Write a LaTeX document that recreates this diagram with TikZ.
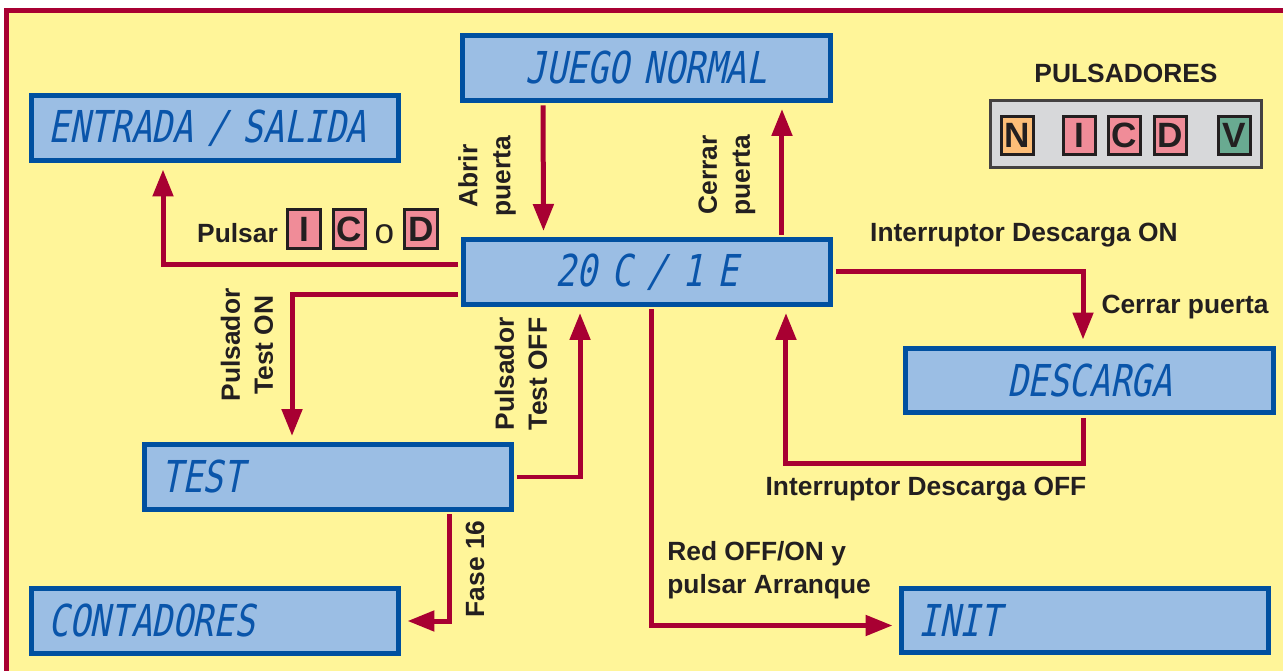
\documentclass[tikz,border=0pt]{standalone}
\usepackage{fontspec}
\setmainfont{Liberation Sans}
\newfontfamily\lcdfont{DejaVu Sans Mono}[FakeSlant=0.2,FakeStretch=0.78]
\usetikzlibrary{arrows.meta,positioning}
\definecolor{fondo}{RGB}{255,245,153}
\definecolor{granate}{RGB}{168,0,50}
\definecolor{azul}{RGB}{0,80,160}
\definecolor{celeste}{RGB}{155,190,228}
\definecolor{azullcd}{RGB}{10,85,170}
\definecolor{negro}{RGB}{35,31,32}
\definecolor{rosa}{RGB}{240,140,152}
\definecolor{naranja}{RGB}{253,190,120}
\definecolor{verde}{RGB}{105,170,145}
\definecolor{gris}{RGB}{215,216,218}

\begin{document}
\begin{tikzpicture}[x=0.02cm,y=-0.02cm,
  lcd/.style={draw=azul,line width=.1cm,fill=celeste,text=azullcd,
    minimum height=1.3cm,text width=6.66cm,inner xsep=.35cm,inner ysep=0pt,
    font=\lcdfont\fontsize{25}{25}\selectfont},
  arr/.style={draw=granate,line width=.1cm,-{Triangle[length=.54cm,width=.4cm]},
    shorten >=.12cm,shorten <=.05cm},
  lab/.style={text=negro,font=\bfseries\fontsize{15}{18.8}\selectfont,align=center,inner sep=0pt},
  btn/.style={draw=negro,line width=.06cm,minimum width=.65cm,minimum height=.77cm,
    inner sep=0pt,text=negro,font=\bfseries\fontsize{20}{20}\selectfont}]
\useasboundingbox (0,0) rectangle (1283,671);
\fill[white] (0,0) rectangle (1283,671);
\draw[granate,line width=.1cm,fill=fondo] (6.5,10.5) rectangle (1300,690);

% pantallas
\node[lcd,align=left] (entrada) at (215,128.5) {ENTRADA / SALIDA};
\node[lcd,align=center] (juego) at (646.5,68) {JUEGO NORMAL};
\node[lcd,align=center] (estado) at (647,272) {20 C / 1 E};
\node[lcd,align=left] (test) at (328,477) {TEST};
\node[lcd,align=left] (contadores) at (215,621) {CONTADORES};
\node[lcd,align=center] (descarga) at (1089.5,380.5) {DESCARGA};
\node[lcd,align=left] (init) at (1085,620.5) {INIT};

% transiciones
\draw[arr] ([yshift=.14cm]estado.west) -| ([xshift=-1.04cm]entrada.south);
\draw[arr] ([xshift=-2.07cm]juego.south) -- ([xshift=-2.07cm]estado.north);
\draw[arr] ([xshift=2.7cm]estado.north) -- ([xshift=2.7cm]estado.north |- juego.south);
\draw[arr] ([yshift=-.46cm]estado.west) -| ([xshift=-.72cm]test.north);
\draw[arr] (test.east) -| ([xshift=-1.34cm]estado.south);
\draw[arr] ([xshift=2.44cm]test.south) |- (contadores.east);
\draw[arr] ([xshift=.08cm]estado.south) |- ([yshift=-.1cm]init.west);
\draw[arr] (estado.east) -| ([xshift=-.13cm]descarga.north);
\draw[arr] ([xshift=-.13cm]descarga.south) -- ++(0,48) -| ([xshift=2.78cm]estado.south);

% etiquetas
\node[lab,rotate=90] (abrir) at (487,176) {Abrir\\puerta};
\node[lab,rotate=90] (cerrar) at (727,175) {Cerrar\\puerta};
\node[lab,rotate=90] (teston) at (247,345) {Pulsador\\Test ON};
\node[lab,rotate=90] (testoff) at (521,374) {Pulsador\\Test OFF};
\node[lab,rotate=90] (fase) at (475,569) {Fase 16};
\node[lab] (descon) at (1024,235) {Interruptor Descarga ON};
\node[lab] (cerrarp) at (1185,307) {Cerrar puerta};
\node[lab] (descoff) at (926,489) {Interruptor Descarga OFF};
\node[lab,align=left,anchor=west] (red) at (667,570) {Red OFF/ON y\\pulsar Arranque};

% pulsar I, C o D
\node[lab] (pulsar) at (237.5,233) {Pulsar};
\node[btn,fill=rosa] (pI) at (304,229) {I};
\node[btn,fill=rosa] (pC) at (349.5,229) {C};
\node[text=negro,inner sep=0pt,font=\fontsize{20}{20}\selectfont] (po) at (384.5,234) {o};
\node[btn,fill=rosa] (pD) at (421,229) {D};

% pulsadores
\node[lab] (pulsadores) at (1126,73) {PULSADORES};
\node[draw=negro!85,line width=.06cm,fill=gris,minimum width=5.42cm,minimum height=1.34cm] (panel) at (1126,134) {};
\node[btn,fill=naranja] (bN) at (1017.5,135.5) {N};
\node[btn,fill=rosa] (bI) at (1079.5,135.5) {I};
\node[btn,fill=rosa] (bC) at (1124.5,135.5) {C};
\node[btn,fill=rosa] (bD) at (1170.5,135.5) {D};
\node[btn,fill=verde] (bV) at (1234.5,135.5) {V};
\end{tikzpicture}
\end{document}
